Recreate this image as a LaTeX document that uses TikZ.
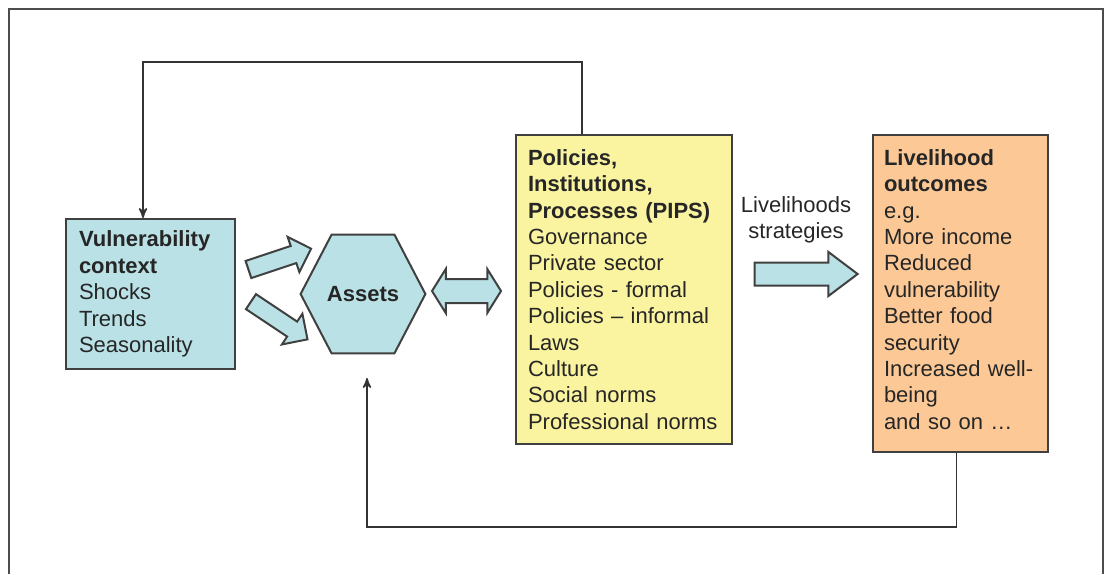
\documentclass[tikz,border=0pt]{standalone}
\usepackage{fontspec}
\setmainfont{Liberation Sans}
\usetikzlibrary{%
  arrows,%
  shapes.arrows,% block arrows
  positioning,%
  calc%
}
\definecolor{vulblue}{RGB}{186,225,229}
\definecolor{pipsyellow}{RGB}{250,243,160}
\definecolor{outorange}{RGB}{252,201,150}
\definecolor{edgegray}{RGB}{64,64,64}

\begin{document}
\begin{tikzpicture}[
  x=0.5pt, y=0.5pt,
  font=\fontsize{11}{13.2}\selectfont, >=stealth',
  every node/.style={text=black!85},
  boxbase/.style={rectangle, draw=edgegray, line width=1pt, align=left, inner ysep=0pt},
  vulnbox/.style={boxbase, fill=vulblue, inner xsep=6.5pt, text width=71.5pt, minimum height=75pt},
  pipsbox/.style={boxbase, fill=pipsyellow, inner xsep=6pt, text width=96pt, minimum height=154.5pt},
  outbox/.style={boxbase, fill=outorange, inner xsep=5.5pt, text width=76.5pt, minimum height=158.5pt},
  hexbox/.style={rectangle, minimum width=62pt, minimum height=59pt, inner sep=0pt},
  hexline/.style={draw=edgegray, line width=1pt, fill=vulblue},
  blockarrow/.style={draw=edgegray, line width=1pt, fill=vulblue, inner xsep=0pt},
  feedback/.style={->, draw=black!80, line width=0.8pt},
  frame/.style={draw=black!70, line width=1.2pt}
]
\useasboundingbox (0,0) rectangle (1106,574);
\draw[frame] (9,0) -- (9,565) -- (1103,565) -- (1103,0);

\node[vulnbox] (vc) at (150.5,280) {\textbf{Vulnerability}\\\textbf{context}\\Shocks\\Trends\\Seasonality};
\node[hexbox] (as) at (363,280) {};
\draw[hexline] (as.west) -- ([xshift=15.5pt]as.north west) -- ([xshift=-15.5pt]as.north east)
  -- (as.east) -- ([xshift=-15.5pt]as.south east) -- ([xshift=15.5pt]as.south west) -- cycle;
\node[font=\fontsize{11}{13.2}\selectfont\bfseries] (astxt) at (as) {Assets};
\node[pipsbox] (pip) at (624,284.5) {\textbf{Policies,}\\\textbf{Institutions,}\\\textbf{Processes (PIPS)}\\Governance\\Private sector\\Policies - formal\\Policies -- informal\\Laws\\Culture\\Social norms\\Professional norms};
\node[outbox] (lo) at (960.5,280.5) {\textbf{Livelihood}\\\textbf{outcomes}\\e.g.\\More income\\Reduced\\vulnerability\\Better food\\security\\Increased well-\\being\\and so on …\par\vspace{4pt}};

% block arrows
\node[blockarrow, single arrow, inner ysep=4pt, single arrow head extend=4.75pt,
  minimum height=33pt, rotate=18.4] (vcup) at (275.5,313.5) {};
\node[blockarrow, single arrow, inner ysep=4pt, single arrow head extend=4.75pt,
  minimum height=34pt, rotate=-33.7] (vcdown) at (275.5,256) {};
\node[blockarrow, double arrow, inner ysep=5.5pt, double arrow head extend=5pt,
  double arrow tip angle=116, minimum height=34.5pt] (aspip) at (466.5,283) {};
\node[blockarrow, single arrow, inner ysep=5.25pt, single arrow head extend=5.25pt,
  single arrow tip angle=74, minimum height=51.5pt] (strat) at (798.5,300) {};
\node[align=center] (ls) at (796,354) {Livelihoods\\strategies};

% feedback loops
\coordinate (fbtop) at (143,512);
\coordinate (fbbot) at (367,47);
\draw[feedback] ([xshift=-21pt]pip.north) |- (fbtop) -- (fbtop |- vc.north);
\draw[feedback] ([xshift=-2pt]lo.south) |- (fbbot) -- ++(0,149);
\end{tikzpicture}
\end{document}
